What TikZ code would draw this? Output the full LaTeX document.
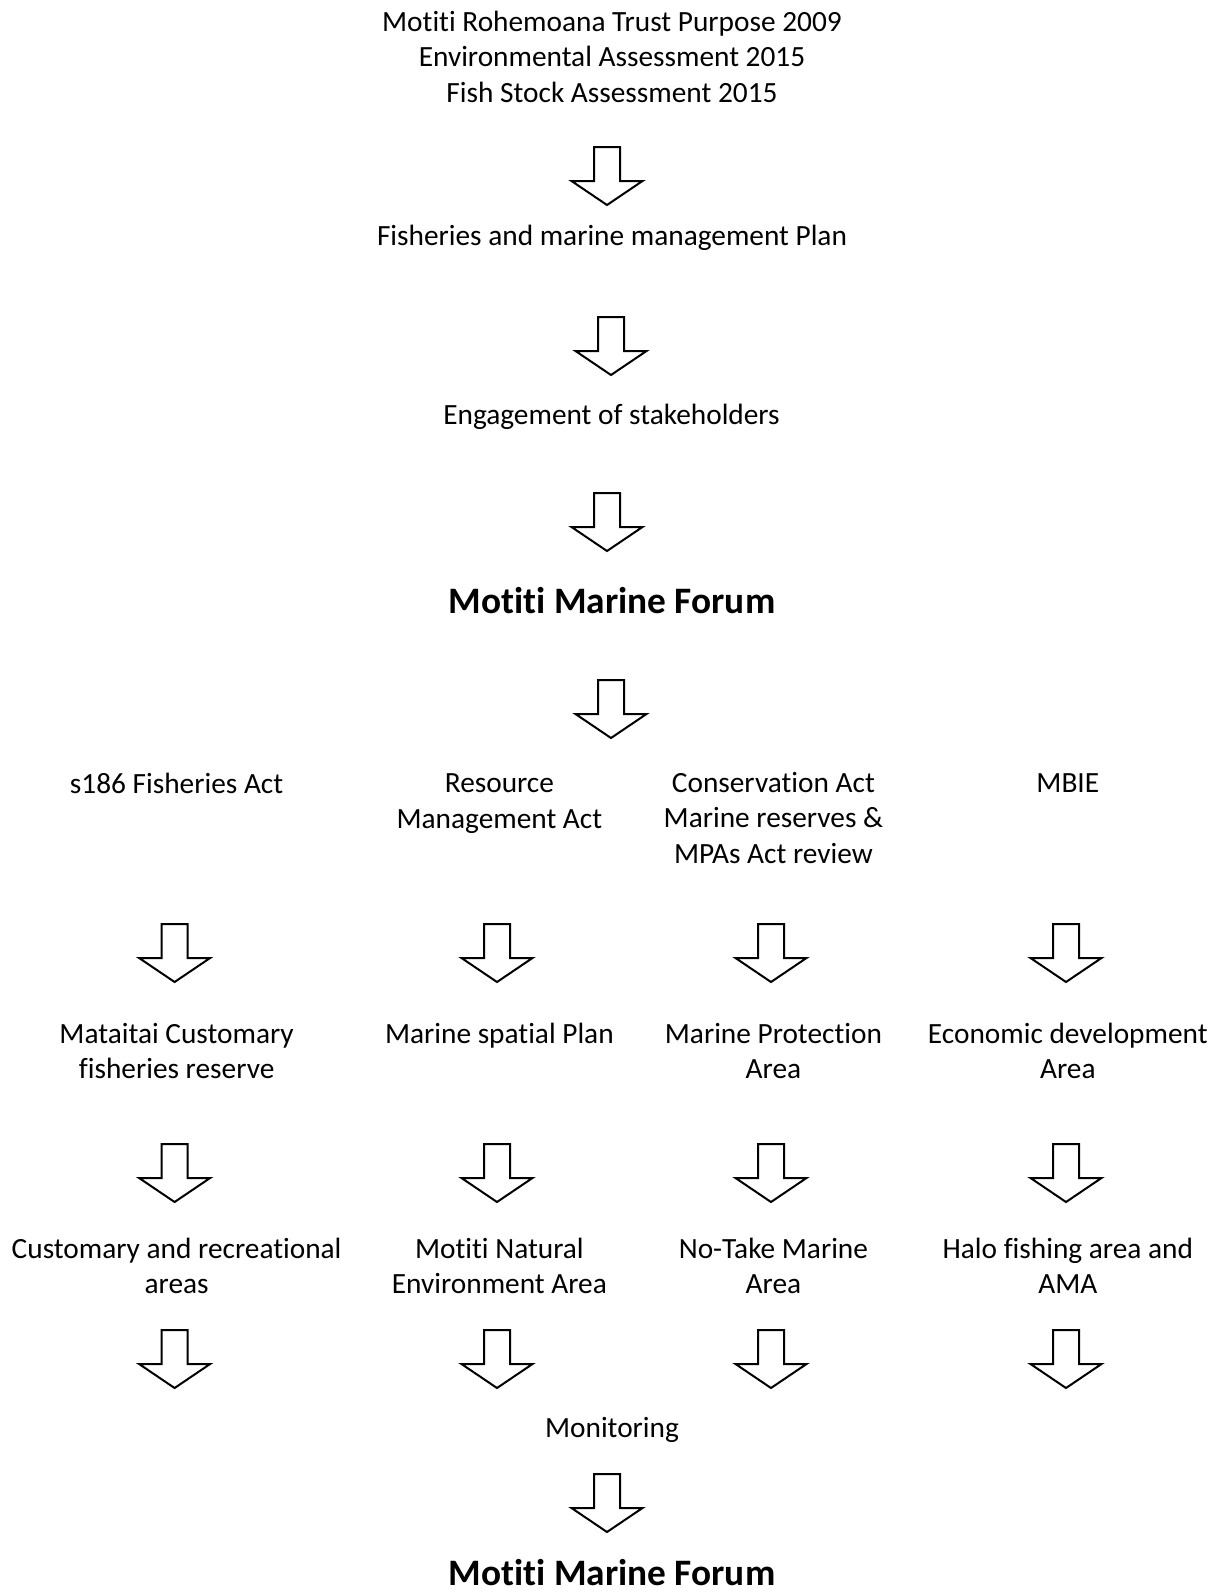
\documentclass[tikz,border=0pt]{standalone}
\usepackage{fontspec}
\setmainfont{Carlito}[Ligatures={NoCommon,NoDiscretionary,NoContextual}]
\begin{document}
\begin{tikzpicture}[x=0.375pt,y=-0.375pt,line join=miter,
  txt/.style={inner sep=0pt,align=center,font=\fontsize{11}{13.3}\selectfont},
  head/.style={inner sep=0pt,align=center,font=\fontsize{14}{17}\selectfont\bfseries},
  blockarrow/.pic={\draw[line width=0.75pt,fill=white] (-13,0) -- (13,0) -- (13,34) -- (35.5,34) -- (0,58) -- (-35.5,34) -- (-13,34) -- cycle;}]
\useasboundingbox (0,0) rectangle (1220,1592);
% top of the chain
\node[txt] (sources) at (612,56.5) {Motiti Rohemoana Trust Purpose 2009\\Environmental Assessment 2015\\Fish Stock Assessment 2015};
\pic at (607,147) {blockarrow};
\node[txt] (plan) at (612,237.5) {Fisheries and marine management Plan};
\pic at (611,317) {blockarrow};
\node[txt] (engage) at (611.5,417) {Engagement of stakeholders};
\pic at (607,493) {blockarrow};
\node[head] (forum) at (612,601) {Motiti Marine Forum};
\pic at (611,680) {blockarrow};
% the four acts
\node[txt] (acta) at (176.6,783.5) {s186 Fisheries Act};
\node[txt] (actb) at (499.4,803.5) {Resource\\Management Act};
\node[txt] (actc) at (773.4,818) {Conservation Act\\Marine reserves \&\\MPAs Act review};
\node[txt] (actd) at (1067.8,783.5) {MBIE};
\foreach \x in {174.6,497,771,1066} {
  \pic at (\x,924) {blockarrow};
  \pic at (\x,1144) {blockarrow};
  \pic at (\x,1330) {blockarrow};
}
% areas
\node[txt] (areaa) at (176.6,1051) {Mataitai Customary\\fisheries reserve};
\node[txt] (areab) at (499.4,1036) {Marine spatial Plan};
\node[txt] (areac) at (773.4,1051) {Marine Protection\\Area};
\node[txt] (aread) at (1067.8,1051) {Economic development\\Area};
\node[txt] (zonea) at (176.6,1266) {Customary and recreational\\areas};
\node[txt] (zoneb) at (499.4,1266) {Motiti Natural\\Environment Area};
\node[txt] (zonec) at (773.4,1266) {No-Take Marine\\Area};
\node[txt] (zoned) at (1067.8,1266) {Halo fishing area and\\AMA};
% back to the forum
\node[txt] (monitor) at (612,1430) {Monitoring};
\pic at (607,1474) {blockarrow};
\node[head] (forumb) at (612,1573) {Motiti Marine Forum};
\end{tikzpicture}
\end{document}
